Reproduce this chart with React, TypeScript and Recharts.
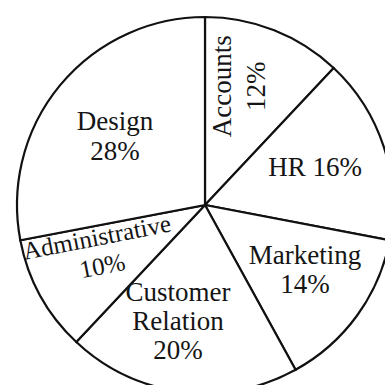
import { Cell, Pie, PieChart } from 'recharts';

// departments, clockwise from 12 o'clock
const departments = ['Accounts', 'HR', 'Marketing', 'Customer Relation', 'Administrative', 'Design'];
const shares = [12, 16, 14, 20, 10, 28];

const data = departments.map((name, i) => ({ name, value: shares[i] }));

const RAD = Math.PI / 180;
const FONT = 27;
// small global nudge of the labels (page px)
const NUDGE_X = -5;
const NUDGE_Y = -7;

// how each label is broken up / turned, and nudged (k = share of radius, da = extra degrees)
const labelStyle: Record<
  string,
  { lines: (v: number) => string[]; rot: number; k: number; da: number; lh: number; fs?: number }
> = {
  Accounts: { lines: (v) => ['Accounts', `${v}%`], rot: -90, k: 0.63, da: 2.3, lh: 34 },
  HR: { lines: (v) => [`HR ${v}%`], rot: 0, k: 0.634, da: -2.9, lh: 29 },
  Marketing: { lines: (v) => ['Marketing', `${v}%`], rot: 0, k: 0.674, da: 1.9, lh: 29 },
  'Customer Relation': { lines: (v) => ['Customer', 'Relation', `${v}%`], rot: 0, k: 0.665, da: -2.9, lh: 29 },
  Administrative: { lines: (v) => ['Administrative', `${v}%`], rot: -11, k: 0.605, da: -0.8, lh: 29, fs: 25 },
  Design: { lines: (v) => ['Design', `${v}%`], rot: 0, k: 0.56, da: 3.5, lh: 30 },
};

const renderLabel = (props: any) => {
  const { cx, cy, midAngle, outerRadius, name, value } = props;
  const st = labelStyle[name];
  const fs = st.fs ?? FONT;
  const r = outerRadius * st.k;
  const a = midAngle + st.da;
  const x = cx + r * Math.cos(-a * RAD) + NUDGE_X;
  const y = cy + r * Math.sin(-a * RAD) + NUDGE_Y;
  const lines = st.lines(value);
  const top = -((lines.length - 1) * st.lh) / 2 + fs * 0.34;
  return (
    <g transform={`translate(${x}, ${y}) rotate(${st.rot})`}>
      <text
        x={0}
        y={0}
        textAnchor='middle'
        fontFamily='"Liberation Serif", "Times New Roman", serif'
        fontSize={fs}
        fill='#151515'
      >
        {lines.map((l, i) => (
          <tspan key={i} x={0} y={top + i * st.lh}>
            {l}
          </tspan>
        ))}
      </text>
    </g>
  );
};

const App = () => {
  return (
    <div style={{ position: 'absolute', left: 0, top: 0 }}>
      <PieChart width={385} height={385}>
        <Pie
          data={data}
          dataKey='value'
          nameKey='name'
          cx={200}
          cy={200}
          outerRadius={188}
          startAngle={90}
          endAngle={-270}
          label={renderLabel}
          labelLine={false}
          isAnimationActive={false}
        >
          {data.map((d) => (
            <Cell key={d.name} fill='#ffffff' stroke='#111111' strokeWidth={2.2} />
          ))}
        </Pie>
      </PieChart>
    </div>
  );
};

export default App;
